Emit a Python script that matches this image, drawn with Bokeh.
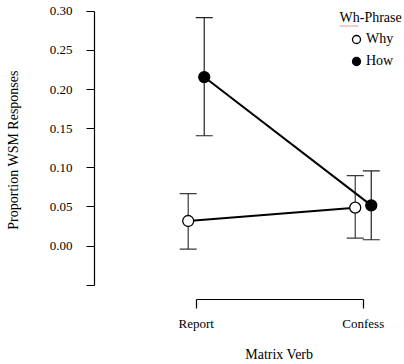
from bokeh.plotting import figure
from bokeh.models import (ColumnDataSource, Range1d, FixedTicker, Whisker, TeeHead,
                          Legend, LegendItem, Label, NumeralTickFormatter)
from bokeh.transform import dodge
from bokeh.embed import file_html
from bokeh.resources import INLINE

# ---- data ----
verbs = ["Report", "Confess"]
verb_pos = [1, 2]
why_mean = [0.032, 0.049]
why_lower = [-0.004, 0.010]
why_upper = [0.067, 0.090]
how_mean = [0.216, 0.052]
how_lower = [0.141, 0.008]
how_upper = [0.292, 0.096]
y_ticks = [-0.05, 0.0, 0.05, 0.10, 0.15, 0.20, 0.25, 0.30]

FONT = "Liberation Serif"
D = 0.048  # dodge between the two series

p = figure(width=404, height=364, output_backend="svg", toolbar_location=None,
           x_range=Range1d(0.391, 2.247), y_range=Range1d(-0.0684, 0.3139),
           min_border_left=94, min_border_right=0, min_border_top=0,
           min_border_bottom=62)
p.outline_line_color = None
p.grid.visible = False
p.background_fill_color = "white"

src_why = ColumnDataSource(dict(x=verb_pos, mean=why_mean, lower=why_lower, upper=why_upper))
src_how = ColumnDataSource(dict(x=verb_pos, mean=how_mean, lower=how_lower, upper=how_upper))

for src, off, col in [(src_why, -D, "#3a3a3a"), (src_how, D, "#222222")]:
    w = Whisker(source=src, base=dodge("x", off), upper="upper", lower="lower",
                line_color=col, line_width=1.2,
                upper_head=TeeHead(size=17, line_color=col, line_width=1.2),
                lower_head=TeeHead(size=17, line_color=col, line_width=1.2))
    p.add_layout(w)

p.line(x=dodge("x", -D), y="mean", source=src_why, line_color="black", line_width=2)
p.line(x=dodge("x", D), y="mean", source=src_how, line_color="black", line_width=2)
why_sc = p.scatter(x=dodge("x", -D), y="mean", source=src_why, size=11,
                   fill_color="white", line_color="black", line_width=1.3)
how_sc = p.scatter(x=dodge("x", D), y="mean", source=src_how, size=11,
                   fill_color="black", line_color="black", line_width=1.3)

# axes
xa = p.xaxis[0]
xa.ticker = FixedTicker(ticks=verb_pos)
xa.major_label_overrides = {k: v for k, v in zip(verb_pos, verbs)}
xa.bounds = (verb_pos[0], verb_pos[-1])
xa.minor_tick_line_color = None
xa.major_tick_in = 0
xa.major_tick_out = 9
xa.major_label_standoff = 7
# leading no-break spaces shift the centred title over the axis bounds
xa.axis_label = "\u00a0" * 17 + "Matrix Verb"
xa.axis_label_standoff = 13

ya = p.yaxis[0]
ya.ticker = FixedTicker(ticks=y_ticks)
ya.formatter = NumeralTickFormatter(format="0.00")
ya.major_label_overrides = {y_ticks[0]: ""}
ya.bounds = (y_ticks[0], y_ticks[-1])
ya.minor_tick_line_color = None
ya.major_tick_in = 0
ya.major_tick_out = 8
ya.major_label_standoff = 14
ya.axis_label = "Proportion WSM Responses"
ya.axis_label_standoff = 26

for ax in (xa, ya):
    ax.axis_line_color = "black"
    ax.axis_line_width = 1.2
    ax.major_tick_line_color = "black"
    ax.major_tick_line_width = 1.2
    ax.major_label_text_font = FONT
    ax.major_label_text_font_size = "13px"
    ax.major_label_text_color = "black"
    ax.axis_label_text_font = FONT
    ax.axis_label_text_font_size = "14px"
    ax.axis_label_text_font_style = "normal"
    ax.axis_label_text_color = "black"


def px2x(px):
    return 1 + (px - 195.7) / 167.0


def px2y(py):
    return 0.30 - (py - 11) / 790.0


# legend
legend = Legend(items=[LegendItem(label="Why", renderers=[why_sc]),
                       LegendItem(label="How", renderers=[how_sc])],
                location=(252, 228), glyph_width=20, glyph_height=20,
                label_height=20, label_standoff=-4, spacing=2, padding=0, margin=0,
                border_line_color=None, background_fill_alpha=0,
                label_text_font=FONT, label_text_font_size="14px",
                label_text_color="black")
p.add_layout(legend)

p.add_layout(Label(x=px2x(339), y=px2y(17), text="Wh-Phrase", text_font=FONT,
                   text_font_size="14px", text_color="black", text_baseline="middle"))
p.add_layout(Label(x=px2x(339), y=px2y(26), text="~~~~~", text_font=FONT,
                   text_font_size="7px", text_color="#e03030", text_baseline="middle"))

open("out.html", "w").write(file_html(p, INLINE))
